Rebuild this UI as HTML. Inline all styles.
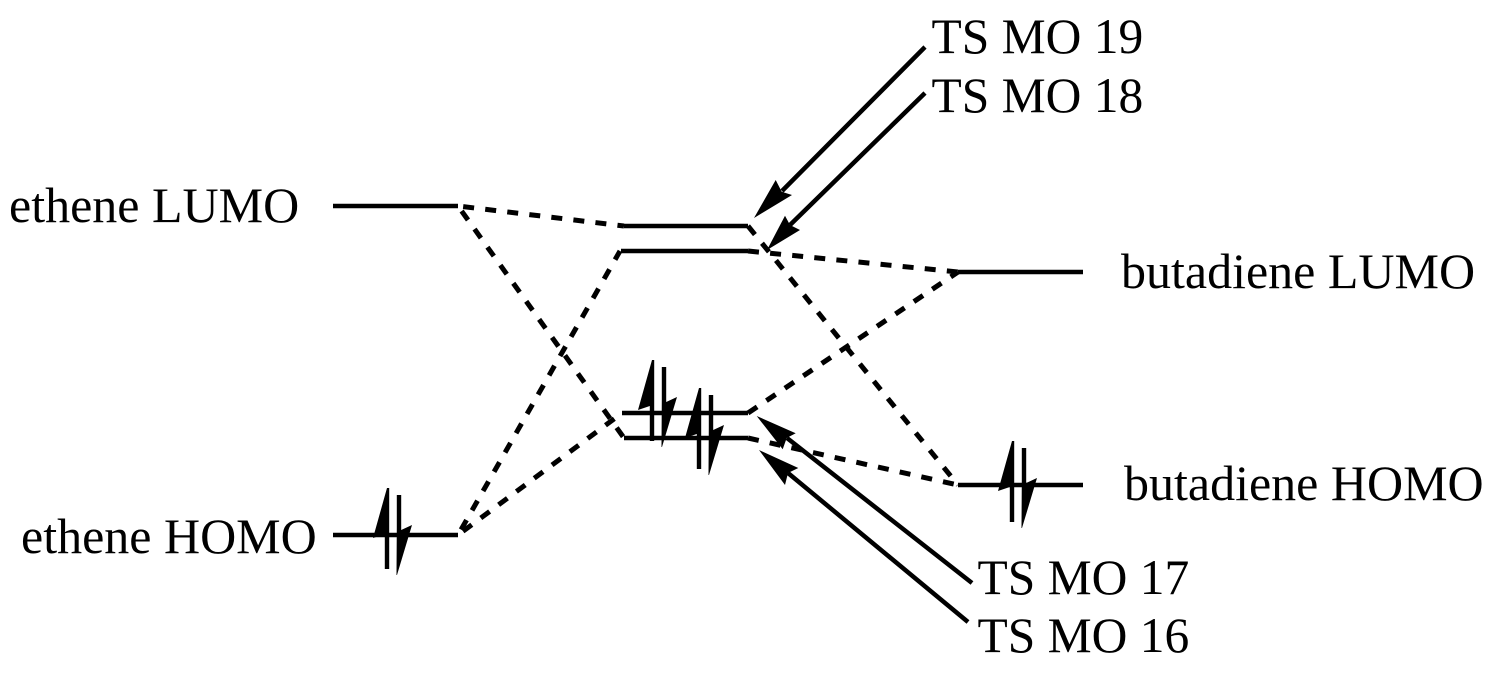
<!DOCTYPE html>
<html><head><meta charset="utf-8"><style>
html,body{margin:0;padding:0;background:#fff;width:1493px;height:675px;overflow:hidden}
svg{display:block}
text{font-family:"Liberation Serif",serif;font-size:49.5px;fill:#000}
text.w{font-size:50px}
</style></head><body>
<svg width="1493" height="675" viewBox="0 0 1493 675" xmlns="http://www.w3.org/2000/svg">
<defs>
<g id="pair">
<polygon points="0,0 -14,50 -2.2,46 -2.2,81 2.2,81 2.2,0"/>
<polygon points="9.8,7 14.2,7 14.2,42 25,37 10,87 9.5,87 9.8,40"/>
</g>
</defs>
<text class="w" x="9" y="222">ethene LUMO</text>
<text class="w" x="21" y="553">ethene HOMO</text>
<text class="w" x="1121" y="288">butadiene LUMO</text>
<text class="w" x="1124" y="500">butadiene HOMO</text>
<text x="931.5" y="53">TS MO 19</text>
<text x="931.5" y="112">TS MO 18</text>
<text x="977.5" y="594">TS MO 17</text>
<text x="977.5" y="652">TS MO 16</text>
<g stroke="#000" stroke-width="4.5" fill="none">
<path d="M333 206H458M333 535H458M624 226H748M621 251H748M622 413H748M624 438H748M958 272H1083M958 485H1083"/>
<g stroke-width="5" stroke-dasharray="11 11.2">
<path stroke-dashoffset="17" d="M458 206L624 226"/>
<path stroke-dashoffset="16" d="M458 206L624 438"/>
<path stroke-dashoffset="16" d="M458 535L620 251"/>
<path stroke-dashoffset="16" d="M458 535L622 413"/>
<path d="M748 226L958 485"/>
<path d="M748 251L958 272"/>
<path d="M748 413L958 272"/>
<path d="M748 438L958 485"/>
</g>
<path d="M925 47L782 191M925 93L790 225M972 583L787 438M968 622L788 473"/>
</g>
<polygon points="754,218 775.7,180 781.7,191.7 792,195"/>
<polygon points="767,250 785,215.7 790,225 800,230"/>
<polygon points="756.7,416 795.7,433.3 786.7,438 782.7,449.3"/>
<polygon points="759,450 798.3,468 788,473 785,485"/>
<use href="#pair" x="387" y="488"/>
<use href="#pair" x="1012" y="441"/>
<use href="#pair" x="652" y="360"/>
<use href="#pair" x="699" y="388"/>
</svg>
</body></html>
